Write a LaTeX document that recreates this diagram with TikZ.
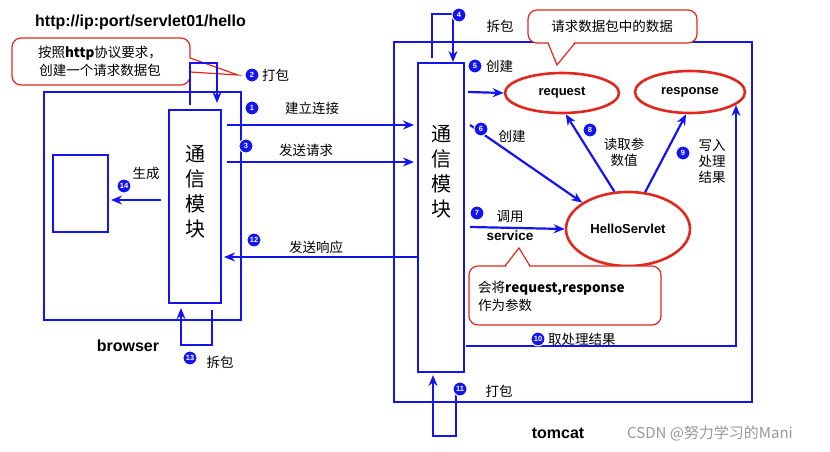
\documentclass[tikz,border=0pt]{standalone}
\usepackage{fontspec}
\setmainfont{Liberation Sans}
\newfontfamily\cjk{Noto Sans CJK SC}
\usetikzlibrary{shapes.geometric,arrows.meta}
\definecolor{bl}{RGB}{20,20,240}
\definecolor{rd}{RGB}{225,40,30}
\begin{document}
\begin{tikzpicture}[x=1pt,y=-1pt,
 box/.style={draw=bl,line width=2.3pt},
 ar/.style={draw=bl,line width=2.2pt,-{Stealth[length=11pt,width=9pt]}},
 num/.style={circle,fill=bl,draw=white,line width=1pt,text=white,font=\bfseries\fontsize{7.5}{8}\selectfont,inner sep=0pt,minimum size=14pt},
 lab/.style={font=\cjk\fontsize{13.5}{16}\selectfont,inner sep=0pt,align=left},
 bold/.style={font=\bfseries\fontsize{14}{16}\selectfont,inner sep=0pt},
 ell/.style={ellipse,draw=rd,line width=2.6pt,fill=white,font=\bfseries\fontsize{13}{15}\selectfont},
 call/.style={draw=rd,line width=1.2pt,fill=white,rounded corners=9pt},
 mod/.style={font=\cjk\fontsize{20}{25}\selectfont,align=center,inner sep=0pt}]
\useasboundingbox (0,0) rectangle (830,452);
% browser
\draw[box] (44,92) rectangle (241,320);
\draw[box] (169,110) rectangle (221,303);
\draw[box] (53,155) rectangle (108,232);
\node[mod] (bm) at (195,192) {通\\信\\模\\块};
% tomcat
\draw[box] (394,42) rectangle (752,402);
\draw[box] (418,63) rectangle (464,372);
\node[mod] (tm) at (441,172) {通\\信\\模\\块};
% ellipses
\node[ell,minimum width=114pt,minimum height=40pt] (req) at (562,93) {request};
\node[ell,minimum width=110pt,minimum height=42pt] (resp) at (690,92) {response};
\node[ell,minimum width=124pt,minimum height=74pt] (hs) at (628,229) {HelloServlet};
% callouts
\draw[call] (528,10) rectangle (697,43);
\fill[white] (548,41) -- (575,41) -- (557,65) -- cycle;
\draw[rd,line width=1.2pt] (548,43) -- (557,65) -- (575,43);
\node[lab,font=\cjk\fontsize{13.5}{15}\selectfont] (c1) at (612,26) {请求数据包中的数据};
\draw[call] (12,38) rectangle (190,85);
\fill[white] (188,58) -- (238,75) -- (188,72) -- cycle;
\draw[rd,line width=1.2pt] (190,58) -- (238,75) -- (190,72);
\node[lab,align=center,font=\cjk\fontsize{13.5}{18}\selectfont] (c2) at (100,61) {按照\textbf{http}协议要求，\\创建一个请求数据包};
\draw[call] (469,266) rectangle (661,325);
\fill[white] (505,268) -- (519,248) -- (530,268) -- cycle;
\draw[rd,line width=1.2pt] (505,266) -- (519,248) -- (530,266);
\node[lab,font=\cjk\fontsize{13.5}{18}\selectfont] (c3) at (478,296) [anchor=west] {会将\textbf{request,response}\\作为参数};
% arrows
\coordinate (a1) at (227,125); \coordinate (b1) at (414,125);
\draw[ar] (a1) -- (b1);
\coordinate (a3) at (227,162); \coordinate (b3) at (414,162);
\draw[ar] (a3) -- (b3);
\coordinate (a12) at (418,257); \coordinate (b12) at (224,257);
\draw[ar] (a12) -- (b12);
\coordinate (a14) at (161,200); \coordinate (b14) at (111,200);
\draw[ar] (a14) -- (b14);
\coordinate (a5) at (468,92);
\draw[ar] (a5) -- (req.west);
\coordinate (a6) at (470,125);
\draw[ar] (a6) -- (hs.150);
\coordinate (a7) at (470,227);
\draw[ar] (a7) -- (hs.west);
\draw[ar] (hs.110) -- (req.-80);
\draw[ar] (hs.65) -- (resp.-100);
\coordinate (a10) at (466,346); \coordinate (c10) at (736,346); \coordinate (b10) at (736,105);
\draw[ar] (a10) -- (c10) -- (b10);
% loops
\coordinate (l1) at (190,105); \coordinate (l2) at (190,63); \coordinate (l3) at (217,63); \coordinate (l4) at (217,103);
\draw[ar] (l1) -- (l2) -- (l3) -- (l4);
\coordinate (t1) at (432,58); \coordinate (t2) at (432,14); \coordinate (t3) at (453,14); \coordinate (t4) at (453,62);
\draw[ar] (t1) -- (t2) -- (t3) -- (t4);
\coordinate (u1) at (456,395); \coordinate (u2) at (456,436); \coordinate (u3) at (433,436); \coordinate (u4) at (433,375);
\draw[ar] (u1) -- (u2) -- (u3) -- (u4);
\coordinate (v1) at (212,310); \coordinate (v2) at (212,345); \coordinate (v3) at (181,345); \coordinate (v4) at (181,308);
\draw[ar] (v1) -- (v2) -- (v3) -- (v4);
% numbers
\node[num] (n1) at (252,108) {1};
\node[num] (n2) at (252,75) {2};
\node[num] (n3) at (246,146) {3};
\node[num] (n4) at (459,15) {4};
\node[num] (n5) at (475,66) {5};
\node[num] (n6) at (481,129) {6};
\node[num] (n7) at (477,213) {7};
\node[num] (n8) at (590,130) {8};
\node[num] (n9) at (683,153) {9};
\node[num] (n10) at (538,339) {10};
\node[num] (n11) at (460,389) {11};
\node[num] (n12) at (254,240) {12};
\node[num] (n13) at (190,358) {13};
\node[num] (n14) at (124,186) {14};
% labels
\node[bold,font=\bfseries\fontsize{16}{18}\selectfont,anchor=west] (url) at (35,22) {http://ip:port/servlet01/hello};
\node[lab] (t1l) at (312,108) {建立连接};
\node[lab] (t3l) at (306,150) {发送请求};
\node[lab] (t12l) at (316,247) {发送响应};
\node[lab] (t14l) at (146,173) {生成};
\node[lab,anchor=west] (t2l) at (262,75) {打包};
\node[lab] (t4l) at (500,26) {拆包};
\node[lab,anchor=west] (t5l) at (486,66) {创建};
\node[lab] (t6l) at (512,136) {创建};
\node[lab] (t7l) at (510,217) {调用};
\node[bold,font=\bfseries\fontsize{13.5}{15}\selectfont] (t7s) at (510,236) {service};
\node[lab,align=center] (t8l) at (624,152) {读取参\\数值};
\node[lab] (t9l) at (712,162) {写入\\处理\\结果};
\node[lab,anchor=west] (t10l) at (548,339) {取处理结果};
\node[lab] (t11l) at (499,391) {打包};
\node[lab] (t13l) at (220,362) {拆包};
\node[bold,font=\bfseries\fontsize{16}{18}\selectfont] (br) at (128,346) {browser};
\node[bold,font=\bfseries\fontsize{16}{18}\selectfont] (tc) at (558,433) {tomcat};
\node[font=\cjk\fontsize{15}{17}\selectfont,text=black!40,inner sep=0pt] (wm) at (710,433) {CSDN @努力学习的Mani};
\end{tikzpicture}
\end{document}
